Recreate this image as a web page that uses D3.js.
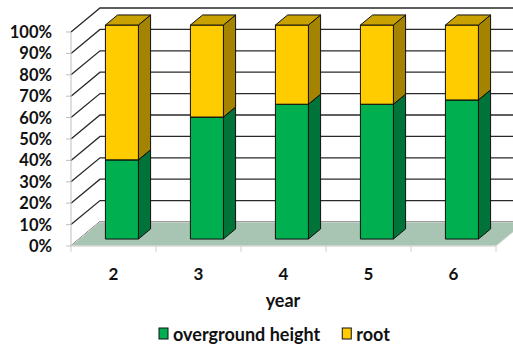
<!DOCTYPE html>
<html>
<head>
<meta charset="utf-8">
<script src="https://cdn.jsdelivr.net/npm/d3@7"></script>
<style>
  html, body { margin: 0; padding: 0; background: #fff; }
  svg { display: block; }
  text { font-family: Lato, "Open Sans", sans-serif; font-weight: 700; fill: #111; }
</style>
</head>
<body>
<script>
// Share of overground height vs. root by plant age (100% stacked, 3-D columns)
const years = ["2", "3", "4", "5", "6"];
const overground = [37, 57, 63, 63, 65];
const root = [63, 43, 37, 37, 35];
const tickValues = [0, 10, 20, 30, 40, 50, 60, 70, 80, 90, 100];
const seriesNames = ["overground height", "root"];

const W = 513, H = 345;
const svg = d3.select("body").append("svg").attr("width", W).attr("height", H);

// front plane of the plot box and its depth offset
const x = d3.scaleBand().domain(years).range([71, 496]).paddingInner(0).paddingOuter(0);
const y = d3.scaleLinear().domain([0, 100]).range([246, 32]);
const DX = 29, DY = -24;
const proj = (px, v, d) => [px + d * DX, y(v) + d * DY];

const series = [
  { name: seriesNames[0], values: overground, front: "#00B050", side: "#007338", top: "#00A04A" },
  { name: seriesNames[1], values: root, front: "#FFCC00", side: "#A38300", top: "#C9A100" }
];

const g = svg.append("g");

// gridlines on left and back walls
tickValues.forEach(v => {
  const a = proj(71, v, 0), b = proj(71, v, 1), c = [W + 20, b[1]];
  g.append("path")
    .attr("d", d3.line()([a, b, c]))
    .attr("fill", "none")
    .attr("stroke", "#2a2a2a")
    .attr("stroke-width", 1.3);
});

// floor
const floorPts = [proj(71, 0, 0), proj(496, 0, 0), proj(496, 0, 1), proj(71, 0, 1)];
g.append("polygon")
  .attr("points", floorPts.map(p => p.join(",")).join(" "))
  .attr("fill", "#A8C4B3")
  .attr("stroke", "#d9d9d9")
  .attr("stroke-width", 1);

// value axis
g.append("line").attr("x1", 71).attr("x2", 71).attr("y1", y(100)).attr("y2", y(0))
  .attr("stroke", "#bfbfbf").attr("stroke-width", 1);
tickValues.forEach(v => {
  g.append("line").attr("x1", 66).attr("x2", 71).attr("y1", y(v)).attr("y2", y(v))
    .attr("stroke", "#bfbfbf").attr("stroke-width", 1);
  g.append("text")
    .attr("x", 52).attr("y", y(v)).attr("dy", "0.36em")
    .attr("text-anchor", "end").attr("font-size", 16.5)
    .text(v + "%");
});

// category axis
g.append("line").attr("x1", 71).attr("x2", 496).attr("y1", y(0)).attr("y2", y(0))
  .attr("stroke", "#d9d9d9");
years.forEach((yr, i) => {
  const bx = x(yr);
  g.append("line").attr("x1", bx).attr("x2", bx).attr("y1", y(0)).attr("y2", y(0) + 6)
    .attr("stroke", "#d0d0d0");
  if (i === years.length - 1) {
    g.append("line").attr("x1", bx + x.bandwidth()).attr("x2", bx + x.bandwidth())
      .attr("y1", y(0)).attr("y2", y(0) + 6).attr("stroke", "#d0d0d0");
  }
  g.append("text")
    .attr("x", bx + x.bandwidth() / 2).attr("y", 280)
    .attr("text-anchor", "middle").attr("font-size", 17)
    .text(yr);
});
g.append("text").attr("x", 283).attr("y", 307).attr("text-anchor", "middle")
  .attr("font-size", 18).text("year");

// stacked 3-D columns
const barW = 33, d0 = 0.29, d1 = 0.71;
years.forEach((yr, i) => {
  const x0 = x(yr) + (x.bandwidth() - barW) / 2; // left edge of the front face before depth offset
  let base = 0;
  series.forEach(s => {
    const v0 = base, v1 = base + s.values[i];
    base = v1;
    const fl = proj(x0, v0, d0), fr = proj(x0 + barW, v0, d0);
    const tl = proj(x0, v1, d0), tr = proj(x0 + barW, v1, d0);
    const br = proj(x0 + barW, v0, d1), btr = proj(x0 + barW, v1, d1), btl = proj(x0, v1, d1);
    const poly = (pts, fill) => g.append("polygon")
      .attr("points", pts.map(p => p.join(",")).join(" "))
      .attr("fill", fill).attr("stroke", "#111").attr("stroke-width", 1)
      .attr("stroke-linejoin", "round");
    poly([fr, br, btr, tr], s.side);
    poly([fl, fr, tr, tl], s.front);
    poly([tl, tr, btr, btl], s.top);
  });
});

// legend
const lg = svg.append("g");
let lx = 159;
series.forEach((s, i) => {
  lg.append("rect").attr("x", lx).attr("y", 328).attr("width", 9).attr("height", 11)
    .attr("fill", s.front).attr("stroke", "#111").attr("stroke-width", 1);
  const t = lg.append("text").attr("x", lx + 14).attr("y", 341).attr("font-size", 18).text(s.name);
  lx = lx + 14 + t.node().getComputedTextLength() + 22;
});
</script>
</body>
</html>
